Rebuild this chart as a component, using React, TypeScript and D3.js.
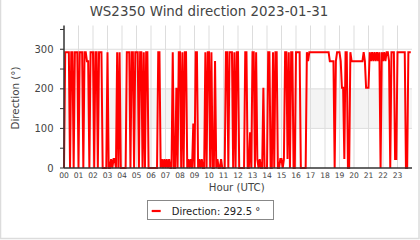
import React from "react";
import * as d3 from "d3";

const TITLE = "WS2350 Wind direction 2023-01-31";
const SERIES_NAME = "Direction";
const LAST_VALUE = "292.5 °";
const hourLabels = ["00","01","02","03","04","05","06","07","08","09","10","11","12","13","14","15","16","17","18","19","20","21","22","23"];
const yTicks = [0, 100, 200, 300];
const yMinorTicks = [50, 150, 250, 350];
const sampleMinutes = 5;

// wind direction (degrees) every 5 minutes, one row per hour
const directions: number[] = [
  0,292.5,292.5,292.5,292.5,0,292.5,292.5,0,292.5,292.5,292.5,
  0,292.5,292.5,292.5,0,292.5,292.5,270,270,0,292.5,292.5,
  292.5,0,292.5,292.5,0,292.5,292.5,292.5,0,0,0,0,
  292.5,0,0,22.5,0,22.5,22.5,0,292.5,0,292.5,0,
  0,0,0,0,292.5,292.5,292.5,0,292.5,292.5,0,292.5,
  292.5,292.5,0,292.5,292.5,0,292.5,0,292.5,292.5,0,0,
  0,0,0,0,0,0,292.5,292.5,0,22.5,0,22.5,
  0,22.5,0,22.5,0,0,292.5,0,0,202.5,0,292.5,
  292.5,0,292.5,0,292.5,292.5,0,22.5,0,22.5,0,112.5,
  0,292.5,292.5,0,22.5,0,22.5,0,0,292.5,0,292.5,
  292.5,0,292.5,0,0,270,0,22.5,0,0,22.5,0,
  0,0,292.5,292.5,0,292.5,292.5,292.5,0,292.5,0,292.5,
  292.5,0,0,0,0,0,292.5,292.5,0,0,90,0,
  292.5,292.5,0,292.5,22.5,0,22.5,0,0,202.5,0,0,
  0,292.5,292.5,0,0,292.5,0,292.5,292.5,0,0,22.5,
  22.5,0,22.5,292.5,292.5,22.5,292.5,0,292.5,292.5,0,0,
  292.5,292.5,292.5,292.5,0,0,0,0,0,292.5,270,292.5,
  292.5,292.5,292.5,292.5,292.5,292.5,292.5,292.5,292.5,292.5,292.5,292.5,
  292.5,292.5,292.5,292.5,270,270,270,270,0,270,292.5,292.5,
  292.5,270,202.5,202.5,22.5,292.5,292.5,0,0,292.5,270,270,
  270,270,270,270,270,270,270,270,292.5,270,202.5,202.5,
  202.5,292.5,270,292.5,270,292.5,270,292.5,270,292.5,0,292.5,
  270,292.5,270,292.5,292.5,270,0,292.5,292.5,292.5,22.5,22.5,
  292.5,292.5,292.5,292.5,292.5,292.5,292.5,0,0,292.5,292.5,292.5,
];

const W = 420;
const H = 240;
const plot = { left: 64, right: 412, top: 25.5, bottom: 168 };
const font = "DejaVu Sans, sans-serif";

export default function App() {
  const x = d3.scaleLinear().domain([0, 24]).range([plot.left, plot.right]);
  const y = d3.scaleLinear().domain([0, 360]).range([plot.bottom, plot.top]);
  const data = directions.map((v, i) => ({ h: (i * sampleMinutes) / 60, v }));
  const line = d3
    .line<{ h: number; v: number }>()
    .x((d) => x(d.h))
    .y((d) => y(d.v));
  const hours = d3.range(hourLabels.length);

  return (
    <svg
      width={W}
      height={H}
      style={{ position: "absolute", left: 0, top: 0, background: "#fff" }}
      fontFamily={font}
    >
      <rect x={0.5} y={-2} width={418.5} height={240.5} fill="#fff" stroke="#dcdcdc" strokeWidth={1.5} />
      <text x={209} y={15.7} textAnchor="middle" fontSize={13.4} fill="#444">
        {TITLE}
      </text>
      {/* band */}
      <rect
        x={plot.left}
        y={y(200)}
        width={plot.right - plot.left}
        height={y(100) - y(200)}
        fill="#f4f4f4"
      />
      {/* vertical grid */}
      {hours.slice(1).map((h) => (
        <line key={"vg" + h} x1={x(h)} x2={x(h)} y1={plot.top} y2={plot.bottom} stroke="#dddddd" strokeWidth={1} />
      ))}
      {yTicks.slice(1).map((t) => (
        <line key={"hg" + t} x1={plot.left - 4} x2={plot.right} y1={y(t)} y2={y(t)} stroke="#dddddd" strokeWidth={1} />
      ))}
      {/* data */}
      <path d={line(data) || ""} fill="none" stroke="#ff0000" strokeWidth={2} strokeLinejoin="miter" />
      {/* axes */}
      <line x1={plot.left} x2={plot.left} y1={plot.top} y2={plot.bottom} stroke="#333" strokeWidth={1.5} />
      <line x1={plot.left} x2={plot.right} y1={plot.bottom} y2={plot.bottom} stroke="#333" strokeWidth={1.5} />
      {[...yTicks, ...yMinorTicks].map((t) => (
        <line key={"yt" + t} x1={plot.left - 4} x2={plot.left} y1={y(t)} y2={y(t)} stroke="#333" strokeWidth={1} />
      ))}
      {yTicks.map((t) => (
        <text key={"yl" + t} x={53.5} y={y(t) + 3.6} textAnchor="end" fontSize={10} fill="#444">
          {t}
        </text>
      ))}
      {hours.map((h) => (
        <text key={"xl" + h} x={x(h)} y={178.3} textAnchor="middle" fontSize={7.6} fill="#444">
          {hourLabels[h]}
        </text>
      ))}
      <text x={236.7} y={190.5} textAnchor="middle" fontSize={10.2} fill="#444">
        Hour (UTC)
      </text>
      <text
        transform={`translate(18.8,98) rotate(-90)`}
        textAnchor="middle"
        fontSize={10.3}
        fill="#444"
      >
        Direction (°)
      </text>
      {/* legend */}
      <rect x={147.5} y={200.5} width={126} height={19} fill="#fff" stroke="#888" strokeWidth={1} />
      <line x1={151.7} x2={160.7} y1={211} y2={211} stroke="#ff0000" strokeWidth={2.2} />
      <text x={171.7} y={215.3} fontSize={10} fill="#222">
        {SERIES_NAME}: {LAST_VALUE}
      </text>
    </svg>
  );
}
